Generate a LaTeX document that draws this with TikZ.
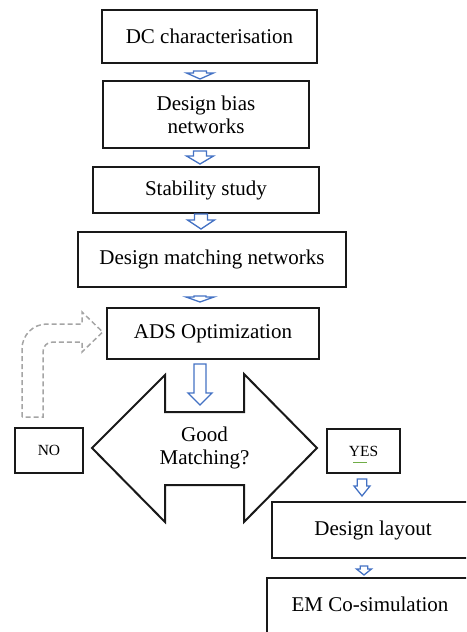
\documentclass[tikz,border=0pt]{standalone}
\usepackage{fontspec}
\setmainfont{Liberation Serif}
\usetikzlibrary{calc}

\definecolor{arrowblue}{HTML}{4472C4}
\definecolor{loopgray}{HTML}{A5A5A5}
\definecolor{spellgreen}{HTML}{70AD47}

\tikzset{
	box/.style={draw=black!90, line width=2pt, fill=white, align=center, inner sep=0pt,
		font=\fontsize{21}{23}\selectfont},
	smallbox/.style={box, font=\fontsize{15.5}{18}\selectfont},
	blockarrow/.style={draw=arrowblue, line width=1.3pt, fill=white, line join=miter},
	decision/.style={draw=black!90, line width=2pt, line join=miter},
	loopback/.style={draw=loopgray, line width=1.5pt, dash pattern=on 5pt off 3pt}
}

% hollow down arrow: top, tip, shaft half width, head half width, head length
\newcommand{\blockdown}[5]{%
	\draw[blockarrow] let \p1=#1, \p2=#2 in
		(\x1-#3pt,\y1) -- (\x1+#3pt,\y1) -- (\x1+#3pt,\y2+#5pt) -- (\x1+#4pt,\y2+#5pt)
		-- (\x1,\y2) -- (\x1-#4pt,\y2+#5pt) -- (\x1-#3pt,\y2+#5pt) -- cycle;}

\begin{document}
\begin{tikzpicture}[x=1pt, y=-1pt]

	\useasboundingbox (0,0) rectangle (466,632);
	\clip (0,0) rectangle (466,632);

	\coordinate (spine) at (200,0);

	\node[box, minimum width=215pt, minimum height=53pt] (dc) at (209.5,36.5) {DC characterisation};
	\node[box, minimum width=206pt, minimum height=67pt] (bias) at (206,114.5) {Design bias\\networks};
	\node[box, minimum width=226pt, minimum height=46pt] (stab) at (206,190) {Stability study};
	\node[box, minimum width=268pt, minimum height=55pt] (match) at (212,259.5) {Design matching networks};
	\node[box, minimum width=212pt, minimum height=51pt] (ads) at (213,333.5) {ADS Optimization};

	\blockdown{($(dc.south -| spine)+(0,7)$)}{($(bias.north)+(0,-1)$)}{6.5}{13.5}{6}
	\blockdown{($(bias.south -| spine)+(0,2)$)}{($(stab.north)+(0,-2)$)}{6.5}{13.5}{8}
	\blockdown{($(stab.south -| spine)+(1,0)$)}{($(match.north)+(0,-2)$)}{6.5}{13.5}{9}
	\blockdown{($(match.south -| spine)+(0,8)$)}{($(ads.north)+(0,-5)$)}{6}{14}{5}

	%%%%%%%%%%%%%%%%%%%%%%%%%%%%%%%%%%%%%%%%%%%%%%%%%%%%%%%%%%%%%%%%%%%%%

	\node[align=center, font=\fontsize{21}{23}\selectfont] (dec) at (204.5,448) {Good\\Matching?};
	\draw[decision, shift={(dec.center)}]
		(-112.5,0) -- (-39.5,-73) -- (-39.5,-36) -- (39.5,-36) -- (39.5,-74) -- (112.5,0)
		-- (39.5,74) -- (39.5,37) -- (-39.5,37) -- (-39.5,74) -- cycle;

	\blockdown{($(ads.south -| spine)+(0,4)$)}{($(dec.center)+(0,-43)$)}{6}{12}{12}

	\node[smallbox, minimum width=68pt, minimum height=45pt] (no) at (49,450.5) {NO};
	\node[smallbox, minimum width=73pt, minimum height=44pt] (yes) at (363.5,451) {YES};
	\draw[spellgreen, line width=0.6pt] ($(yes.center)+(-10.5,11)$) -- ($(yes.center)+(3.5,11)$);

	% dashed way back to the optimisation
	\coordinate (back) at ($(no.north)+(-27,-10)$);
	\draw[loopback, shift={(back)}]
		(0,0) -- (0,-68) .. controls (0,-82) and (11,-93) .. (25,-93) -- (60,-93) -- (60,-105)
		-- (80.7,-85) -- (60,-65) -- (60,-75) -- (31,-75) .. controls (25,-75) and (21,-71) .. (21,-65)
		-- (21,0) -- cycle;

	%%%%%%%%%%%%%%%%%%%%%%%%%%%%%%%%%%%%%%%%%%%%%%%%%%%%%%%%%%%%%%%%%%%%%

	\node[box, minimum width=202pt, minimum height=56pt] (layout) at (373,530) {Design layout};
	\node[box, minimum width=206pt, minimum height=64pt, text depth=12pt, anchor=north] (em) at (370,577) {EM Co-simulation};

	\blockdown{($(yes.south)+(-1.5,5)$)}{($(layout.north)+(0,-5)$)}{4.7}{8}{10}
	\blockdown{($(layout.south)+(-9,7)$)}{($(em.north)+(0,-2)$)}{3.7}{7.5}{6}

\end{tikzpicture}
\end{document}
